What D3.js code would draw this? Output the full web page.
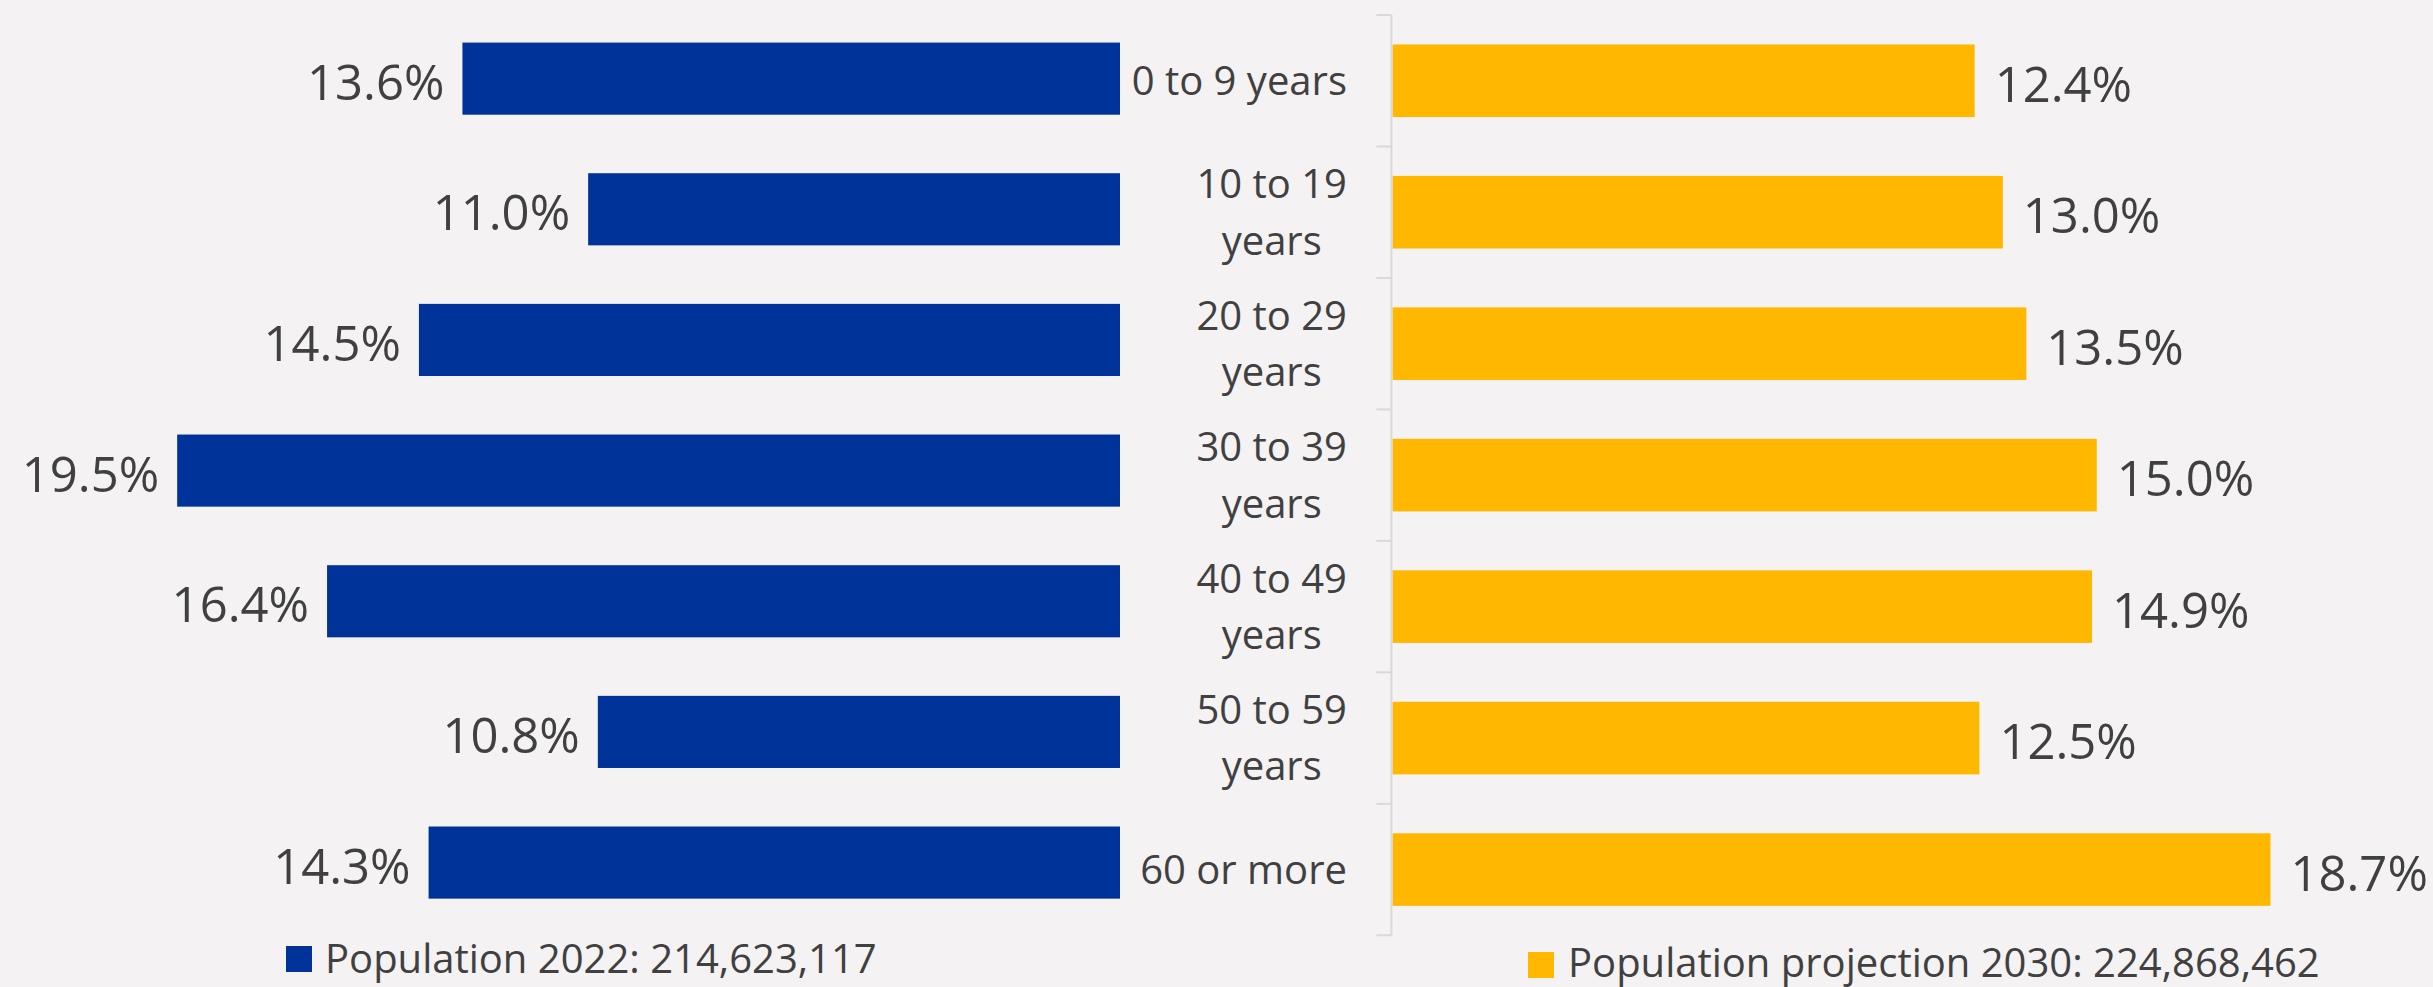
<!DOCTYPE html>
<html>
<head>
<meta charset="utf-8">
<script src="https://cdn.jsdelivr.net/npm/d3@7"></script>
<style>
  html, body { margin: 0; padding: 0; background: #F4F2F3; }
  svg { display: block; }
  text { font-family: "Open Sans", "Noto Sans", sans-serif; fill: #404040; }
</style>
</head>
<body>
<svg id="chart" width="2433" height="987"></svg>
<script>
const categories = ["0 to 9 years", "10 to 19 years", "20 to 29 years", "30 to 39 years", "40 to 49 years", "50 to 59 years", "60 or more"];
const categoryLines = [["0 to 9 years"], ["10 to 19", "years"], ["20 to 29", "years"], ["30 to 39", "years"], ["40 to 49", "years"], ["50 to 59", "years"], ["60 or more"]];
const pop2022 = [13.6, 11.0, 14.5, 19.5, 16.4, 10.8, 14.3];
const pop2030 = [12.4, 13.0, 13.5, 15.0, 14.9, 12.5, 18.7];
const seriesNames = ["Population 2022: 214,623,117", "Population projection 2030: 224,868,462"];
const colors = ["#003399", "#FFB700"];

const svg = d3.select("#chart");
svg.append("rect").attr("width", 2433).attr("height", 987).attr("fill", "#F4F2F3");

// scales
const yLeft = d3.scaleBand().domain(categories).range([13.3, 927.9]).paddingInner(0.448).paddingOuter(0.224);
const yRight = d3.scaleBand().domain(categories).range([15, 935.3]).paddingInner(0.448).paddingOuter(0.224);
const xLeft = d3.scaleLinear().domain([0, 20]).range([1120, 1120 - 20 * 48.35]);
const xRight = d3.scaleLinear().domain([0, 20]).range([1392.5, 1392.5 + 20 * 46.95]);
const fmt = d => d.toFixed(1) + "%";

// left bars
const gL = svg.append("g");
gL.selectAll("rect").data(categories).join("rect")
  .attr("x", (d, i) => xLeft(pop2022[i]))
  .attr("width", (d, i) => xLeft(0) - xLeft(pop2022[i]))
  .attr("y", d => yLeft(d))
  .attr("height", yLeft.bandwidth())
  .attr("fill", colors[0]);
gL.selectAll("text").data(categories).join("text")
  .attr("x", (d, i) => xLeft(pop2022[i]) - 18)
  .attr("y", d => yLeft(d) + yLeft.bandwidth() / 2 + 21)
  .attr("text-anchor", "end")
  .attr("font-size", 49)
  .text((d, i) => fmt(pop2022[i]));

// right bars
const gR = svg.append("g");
gR.selectAll("rect").data(categories).join("rect")
  .attr("x", xRight(0))
  .attr("width", (d, i) => xRight(pop2030[i]) - xRight(0))
  .attr("y", d => yRight(d))
  .attr("height", yRight.bandwidth())
  .attr("fill", colors[1]);
gR.selectAll("text").data(categories).join("text")
  .attr("x", (d, i) => xRight(pop2030[i]) + 20)
  .attr("y", d => yRight(d) + yRight.bandwidth() / 2 + 21)
  .attr("text-anchor", "start")
  .attr("font-size", 49)
  .text((d, i) => fmt(pop2030[i]));

// category axis (right chart's axis)
const axisX = 1391.4;
const axisG = svg.append("g").attr("transform", `translate(${axisX},0)`);
const axis = d3.axisLeft(yRight).tickSize(0).tickFormat("");
axisG.call(axis);
axisG.select(".domain").remove();
const [r0, r1] = yRight.range();
axisG.append("line").attr("x1", 0).attr("x2", 0).attr("y1", r0).attr("y2", r1)
  .attr("stroke", "#D9D9D9").attr("stroke-width", 2);
const step = yRight.step();
const bounds = d3.range(categories.length + 1).map(i => r0 + i * step);
axisG.selectAll("line.tk").data(bounds).join("line").attr("class", "tk")
  .attr("x1", -15).attr("x2", 0).attr("y1", d => d).attr("y2", d => d)
  .attr("stroke", "#D9D9D9").attr("stroke-width", 2);

// category labels: block right-aligned, lines centered within block
const labelRight = 1347;
const lineH = 56.4;
const catG = svg.append("g");
categories.forEach((c, i) => {
  const lines = categoryLines[i];
  const t = catG.append("text").attr("font-size", 40).attr("text-anchor", "middle");
  const tspans = lines.map(l => t.append("tspan").text(l));
  const widths = tspans.map(s => s.node().getComputedTextLength());
  const maxW = d3.max(widths);
  const cx = labelRight - maxW / 2;
  const cy = yRight(c) + yRight.bandwidth() / 2;
  const n = lines.length;
  tspans.forEach((s, j) => {
    s.attr("x", cx).attr("y", cy + (j - (n - 1) / 2) * lineH + 14.2);
  });
});

// legends
const legends = [
  { x: 286, y: 946, tx: 325, ty: 973.3 },
  { x: 1528, y: 952, tx: 1568, ty: 976.5 }
];
legends.forEach((l, i) => {
  svg.append("rect").attr("x", l.x).attr("y", l.y).attr("width", 26).attr("height", 26).attr("fill", colors[i]);
  svg.append("text").attr("x", l.tx).attr("y", l.ty).attr("font-size", 40).text(seriesNames[i]);
});
</script>
</body>
</html>
